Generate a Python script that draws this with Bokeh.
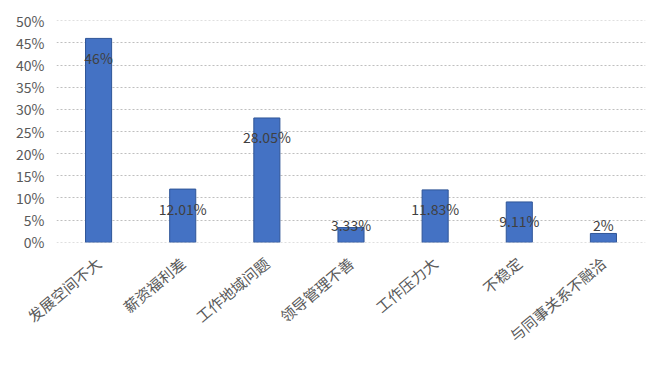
from bokeh.plotting import figure
from bokeh.models import ColumnDataSource, NumeralTickFormatter, FactorRange
from bokeh.core.properties import value
from bokeh.embed import file_html
from bokeh.resources import INLINE
from math import pi

categories = ["发展空间不大", "薪资福利差", "工作地域问题", "领导管理不善", "工作压力大", "不稳定", "与同事关系不融洽"]
values_pct = [46, 12.01, 28.05, 3.33, 11.83, 9.11, 2]
y_ticks_pct = [0, 5, 10, 15, 20, 25, 30, 35, 40, 45, 50]

vals = [v / 100 for v in values_pct]
labels = [f"{v:g}%" for v in values_pct]
label_y = [max(v - 4.4, 3.95) / 100 for v in values_pct]

src = ColumnDataSource(dict(cat=categories, val=vals, lab=labels, ly=label_y))

FONT = "Noto Sans CJK SC"

p = figure(width=665, height=368, output_backend="svg", toolbar_location=None,
           x_range=FactorRange(*categories, range_padding=0), y_range=(-0.0004, 0.5004),
           min_border_left=56, min_border_right=20, min_border_top=20, min_border_bottom=126)

p.vbar(x="cat", top="val", width=0.31, source=src, fill_color="#4472C4", line_color="#2F5597", line_width=1)
p.text(x="cat", y="ly", text="lab", source=src, text_align="center", text_baseline="middle",
       text_font_size="14px", text_color="#404040", text_font=value(FONT))

p.outline_line_color = None
p.xgrid.grid_line_color = None
p.ygrid.grid_line_color = "#BFBFBF"
p.ygrid.grid_line_dash = "2 2"
p.yaxis.ticker = [t / 100 for t in y_ticks_pct]
p.yaxis.formatter = NumeralTickFormatter(format="0%")
for ax in (p.xaxis, p.yaxis):
    ax.axis_line_color = None
    ax.major_tick_line_color = None
    ax.minor_tick_line_color = None
    ax.major_tick_out = 0
    ax.major_tick_in = 0
    ax.minor_tick_out = 0
    ax.major_label_text_font = FONT
    ax.major_label_text_font_size = "14px"
    ax.major_label_text_color = "#595959"
p.yaxis.major_label_standoff = 12
p.xaxis.major_label_text_font_size = "15px"
p.xaxis.major_label_orientation = 40 * pi / 180
p.xaxis.major_label_standoff = 18
p.background_fill_color = "white"
p.border_fill_color = "white"

open("out.html", "w").write(file_html(p, INLINE))
